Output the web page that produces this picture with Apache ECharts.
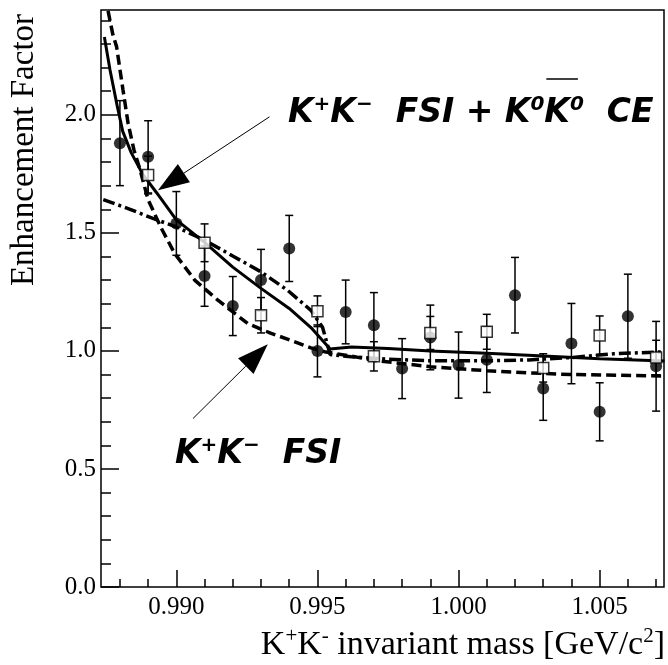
<!DOCTYPE html>
<html>
<head>
<meta charset="utf-8">
<script src="https://cdn.jsdelivr.net/npm/echarts@6/dist/echarts.min.js"></script>
<style>
html,body{margin:0;padding:0;background:#fff;}
#chart{width:668px;height:665px;}
</style>
</head>
<body>
<div id="chart"></div>
<script>
// ---- data ----
const circleX   = [0.988,0.989,0.990,0.991,0.992,0.993,0.994,0.995,0.996,0.997,0.998,0.999,1.000,1.001,1.002,1.003,1.004,1.005,1.006,1.007];
const circleY   = [1.88,1.822,1.54,1.317,1.19,1.30,1.434,1.00,1.165,1.109,0.925,1.057,0.94,0.963,1.236,0.841,1.031,0.742,1.147,0.935];
const circleErr = [0.18,0.153,0.135,0.128,0.125,0.13,0.14,0.11,0.135,0.138,0.127,0.137,0.14,0.139,0.16,0.135,0.17,0.123,0.178,0.19];

const squareX   = [0.989,0.991,0.993,0.995,0.997,0.999,1.001,1.003,1.005,1.007];
const squareY   = [1.745,1.458,1.151,1.168,0.977,1.076,1.081,0.928,1.065,0.972];
const squareErr = [0.08,0.08,0.075,0.065,0.062,0.07,0.074,0.06,0.083,0.073];

// K+K- FSI + K0K0bar CE (solid)
const solidX = [0.98745,0.98765,0.9879,0.9881,0.9884,0.9888,0.9893,0.9900,0.9910,0.9920,0.9930,0.9940,0.9948,0.99545,0.9962,0.9975,0.9990,1.0010,1.0030,1.0050,1.0073];
const solidY = [2.33,2.19,2.04,1.93,1.84,1.75,1.67,1.555,1.46,1.355,1.265,1.18,1.095,1.008,1.017,1.01,1.0,0.99,0.978,0.967,0.957];
// K+K- FSI (dashed)
const dashX = [0.98758,0.98775,0.98788,0.98811,0.98829,0.9885,0.9887,0.9890,0.98947,0.98994,0.99065,0.99147,0.99253,0.99336,0.99406,0.99477,0.9953,0.9960,0.9970,0.9990,1.0010,1.0036,1.0073];
const dashY = [2.44,2.34,2.29,2.105,1.964,1.85,1.773,1.64,1.519,1.413,1.30,1.215,1.116,1.074,1.045,1.013,0.995,0.982,0.96,0.933,0.916,0.901,0.894];
// third model (dash-dot)
const ddX = [0.98741,0.98829,0.98917,0.9900,0.9910,0.99206,0.9930,0.99394,0.99477,0.99518,0.99545,0.9962,0.9975,0.9990,1.0010,1.0025,1.0040,1.0055,1.0073];
const ddY = [1.641,1.603,1.561,1.525,1.469,1.398,1.335,1.257,1.172,1.10,0.985,0.975,0.965,0.958,0.958,0.962,0.972,0.988,0.996];

// axes
const X_MIN = 0.98733, X_MAX = 1.00728;
const Y_MIN = 0, Y_MAX = 2.444;
const xMajor = [0.990,0.995,1.000,1.005];
const xMinor = [0.988,0.989,0.991,0.992,0.993,0.994,0.996,0.997,0.998,0.999,1.001,1.002,1.003,1.004,1.006,1.007];
const yMajor = [0,0.5,1.0,1.5,2.0];
const yMinor = [0.1,0.2,0.3,0.4,0.6,0.7,0.8,0.9,1.1,1.2,1.3,1.4,1.6,1.7,1.8,1.9,2.1,2.2,2.3,2.4];

// annotation arrows (data coords): [tailX, tailY, tipX, tipY]
const arrow1 = [0.99330, 1.9915, 0.98935, 1.681];
const arrow2 = [0.99059, 0.7136, 0.99324, 1.028];

const zip = (a,b) => a.map((v,i)=>[v,b[i]]);
const errData = (xs,ys,es) => xs.map((x,i)=>[x, ys[i]-es[i], ys[i]+es[i]]);

function errRender(params, api){
  const x = api.value(0), lo = api.value(1), hi = api.value(2);
  const p1 = api.coord([x, hi]), p2 = api.coord([x, lo]);
  const hw = 4;
  const st = {stroke:'#000', lineWidth:1.5};
  return {type:'group', children:[
    {type:'line', shape:{x1:p1[0],y1:p1[1],x2:p2[0],y2:p2[1]}, style:st},
    {type:'line', shape:{x1:p1[0]-hw,y1:p1[1],x2:p1[0]+hw,y2:p1[1]}, style:st},
    {type:'line', shape:{x1:p2[0]-hw,y1:p2[1],x2:p2[0]+hw,y2:p2[1]}, style:st}
  ]};
}

const chart = echarts.init(document.getElementById('chart'), null, {renderer:'canvas'});
const serif = 'Liberation Serif';
const tickStyle = {color:'#000', width:1.5};

chart.setOption({
  animation:false,
  backgroundColor:'#fff',
  grid:{left:101, right:4, top:10, bottom:78, show:true, borderColor:'#000', borderWidth:1.5, backgroundColor:'transparent'},
  xAxis:[
    {type:'value', min:X_MIN, max:X_MAX, position:'bottom',
     axisLine:{show:false}, splitLine:{show:false},
     axisTick:{show:true, inside:true, length:17, customValues:xMajor, lineStyle:tickStyle},
     axisLabel:{show:true, customValues:xMajor, formatter:v=>v.toFixed(3), fontFamily:serif, fontSize:25, color:'#000', margin:8}},
    {type:'value', min:X_MIN, max:X_MAX, position:'bottom',
     axisLine:{show:false}, splitLine:{show:false},
     axisTick:{show:true, inside:true, length:8, customValues:xMinor, lineStyle:tickStyle},
     axisLabel:{show:false}}
  ],
  yAxis:[
    {type:'value', min:Y_MIN, max:Y_MAX, position:'left',
     axisLine:{show:false}, splitLine:{show:false},
     axisTick:{show:true, inside:true, length:18, customValues:yMajor, lineStyle:tickStyle},
     axisLabel:{show:true, customValues:yMajor, formatter:v=>v.toFixed(1), fontFamily:serif, fontSize:25, color:'#000', margin:5}},
    {type:'value', min:Y_MIN, max:Y_MAX, position:'left',
     axisLine:{show:false}, splitLine:{show:false},
     axisTick:{show:true, inside:true, length:10, customValues:yMinor, lineStyle:tickStyle},
     axisLabel:{show:false}}
  ],
  series:[
    {type:'line', data:zip(ddX,ddY), showSymbol:false, symbol:'none', clip:true,
     lineStyle:{color:'#000', width:3.5, type:[12,4,3,4]}, z:2},
    {type:'line', data:zip(dashX,dashY), showSymbol:false, symbol:'none', clip:true,
     lineStyle:{color:'#000', width:3.5, type:[10,5]}, z:2},
    {type:'line', data:zip(solidX,solidY), showSymbol:false, symbol:'none', clip:true,
     lineStyle:{color:'#000', width:3, type:'solid'}, z:2},
    {type:'custom', renderItem:errRender, data:errData(circleX,circleY,circleErr), encode:{x:0,y:[1,2]}, z:3},
    {type:'custom', renderItem:errRender, data:errData(squareX,squareY,squareErr), encode:{x:0,y:[1,2]}, z:3},
    {type:'scatter', data:zip(circleX,circleY), symbol:'circle', symbolSize:12, itemStyle:{color:'#000'}, z:4},
    {type:'scatter', data:zip(squareX,squareY), symbol:'rect', symbolSize:11, itemStyle:{color:'#fff', borderColor:'#000', borderWidth:1.5}, z:5}
  ]
});

function arrowGraphics(a){
  const tail = chart.convertToPixel({gridIndex:0}, [a[0],a[1]]);
  const tip = chart.convertToPixel({gridIndex:0}, [a[2],a[3]]);
  const dx = tip[0]-tail[0], dy = tip[1]-tail[1];
  const L = Math.sqrt(dx*dx+dy*dy), ux = dx/L, uy = dy/L;
  const hl = 31, hw = 11;
  const bx = tip[0]-ux*hl, by = tip[1]-uy*hl;
  return [
    {type:'line', shape:{x1:tail[0],y1:tail[1],x2:bx,y2:by}, style:{stroke:'#000', lineWidth:1}, z:10},
    {type:'polygon', shape:{points:[[tip[0],tip[1]],[bx-uy*hw,by+ux*hw],[bx+uy*hw,by-ux*hw]]}, style:{fill:'#000'}, z:10}
  ];
}

const annFont = 'DejaVu Sans';
const BIG = 33, SMALL = 20;
const bigRich = (size, small) => ({
  b:{fontSize:size, fontWeight:'bold', fontStyle:'italic', fontFamily:annFont, color:'#000', lineHeight:size+4},
  s:{fontSize:small, fontWeight:'bold', fontStyle:'italic', fontFamily:annFont, color:'#000', verticalAlign:'top', lineHeight:small}
});

// measure where the second K of the top label sits, to put the bar over it
const ctx = document.createElement('canvas').getContext('2d');
const wb = t => { ctx.font = 'italic bold ' + BIG + 'px "' + annFont + '"'; return ctx.measureText(t).width; };
const ws = t => { ctx.font = 'italic bold ' + SMALL + 'px "' + annFont + '"'; return ctx.measureText(t).width; };
const lab1X = 288;
const kBarX = lab1X + wb('K') + ws('+') + wb('K') + ws('−') + wb('  FSI + K') + ws('0');
const kW = wb('K');

chart.setOption({
  graphic:[
    ...arrowGraphics(arrow1),
    ...arrowGraphics(arrow2),
    {type:'text', x:lab1X, y:95, z:11, style:{text:'{b|K}{s|+}{b|K}{s|−}{b|  FSI + K}{s|0}{b|K}{s|0}{b|  CE}', rich:bigRich(BIG, SMALL), textAlign:'left', textVerticalAlign:'top'}},
    {type:'line', shape:{x1:kBarX+2, y1:79, x2:kBarX+kW+8, y2:79}, style:{stroke:'#000', lineWidth:1.5}, z:11},
    {type:'text', x:175, y:436, z:11, style:{text:'{b|K}{s|+}{b|K}{s|−}{b|  FSI}', rich:bigRich(BIG, SMALL), textAlign:'left', textVerticalAlign:'top'}},
    {type:'text', x:24, y:150, rotation:Math.PI/2, z:11, style:{text:'Enhancement Factor', fontFamily:serif, fontSize:33, fill:'#000', textAlign:'center', textVerticalAlign:'middle'}},
    {type:'text', x:665, y:664, z:11, style:{text:'{m|K}{u|+}{m|K}{u|-}{m| invariant mass [GeV/c}{u|2}{m|]}',
      rich:{m:{fontFamily:serif, fontSize:34, color:'#000', lineHeight:38}, u:{fontFamily:serif, fontSize:21, color:'#000', verticalAlign:'top', lineHeight:23}},
      textAlign:'right', textVerticalAlign:'bottom'}}
  ]
});
</script>
</body>
</html>
